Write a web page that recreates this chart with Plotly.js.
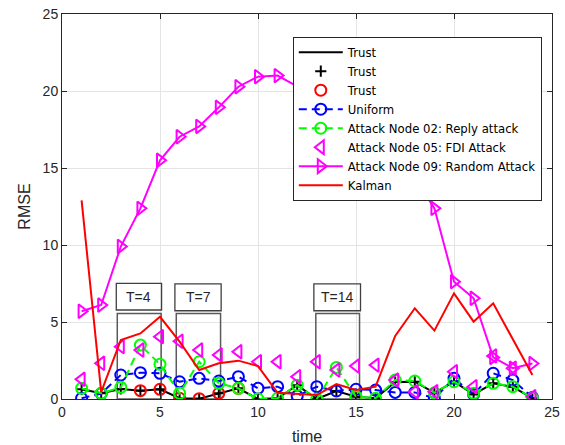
<!DOCTYPE html>
<html>
<head>
<meta charset="utf-8">
<script src="https://cdn.plot.ly/plotly-3.0.1.min.js"></script>
<style>html,body{margin:0;padding:0;background:#fff;}#chart{width:565px;height:445px;}</style>
</head>
<body>
<div id="chart"></div>
<script>
// ---- data ----
const time = [1,2,3,4,5,6,7,8,9,10,11,12,13,14,15,16,17,18,19,20,21,22,23,24];
const trust = [0.63,0.37,0.65,0.54,0.63,0.05,0.02,0.37,0.69,0.0,0.05,0.9,0.0,0.52,0.15,0.05,1.1,1.12,0.4,1.12,0.3,1.02,0.78,0.05];
const trustAlertTimes = [4,5,6,7,8,9,15];
const uniform = [0.05,0.35,1.56,1.71,1.67,1.12,1.34,1.17,1.45,0.69,0.8,0.19,0.8,0.52,0.63,0.58,0.43,0.43,0.05,1.34,0.3,1.67,1.23,0.1];
const replyAttack = [0.69,0.37,0.76,3.5,2.25,0.37,2.42,1.02,0.69,0.0,0.05,0.9,0.0,2.05,0.15,0.05,1.23,1.17,0.4,1.12,0.37,1.02,0.8,0.05];
const fdiAttack = [1.28,2.32,3.4,3.18,4.05,3.75,3.18,2.86,3.07,2.42,2.42,1.45,2.42,1.88,2.14,2.2,1.23,0.47,0.47,1.77,0.8,2.8,2.0,0.15];
const randomAttack = [5.7,6.1,9.9,12.38,15.5,17.03,17.7,18.94,20.28,20.93,21.0,20.3,19.7,19.0,18.0,16.8,15.6,14.4,12.38,7.62,6.54,2.7,2.0,2.3];
const kalman = [12.9,0.45,3.83,4.26,5.34,3.72,1.88,2.32,2.49,2.14,0.4,0.32,0.26,0.97,0.58,0.8,4.1,5.89,4.44,6.86,5.02,6.21,3.85,1.56];
const seriesNames = ['Trust','Trust','Trust','Uniform','Attack Node 02: Reply attack','Attack Node 05: FDI Attack','Attack Node 09: Random Attack','Kalman'];
const windowLabels = ['T=4','T=7','T=14'];

const alertY = trustAlertTimes.map(t => trust[time.indexOf(t)]);

const traces = [
  {x: time, y: trust, name: seriesNames[0], mode: 'lines', line: {color: '#000000', width: 2}},
  {x: time, y: trust, name: seriesNames[1], mode: 'markers',
   marker: {symbol: 'cross-thin', size: 8, color: '#000000', line: {color: '#000000', width: 2}}},
  {x: trustAlertTimes, y: alertY, name: seriesNames[2], mode: 'markers',
   marker: {symbol: 'circle-open', size: 11, color: '#ff0000', line: {color: '#ff0000', width: 2}}},
  {x: time, y: uniform, name: seriesNames[3], mode: 'lines+markers',
   line: {color: '#0000ff', width: 2, dash: '8px,5px'},
   marker: {symbol: 'circle-open', size: 11, color: '#0000ff', line: {color: '#0000ff', width: 2}}},
  {x: time, y: replyAttack, name: seriesNames[4], mode: 'lines+markers',
   line: {color: '#00ff00', width: 2, dash: '8px,5px'},
   marker: {symbol: 'circle-open', size: 11, color: '#00ff00', line: {color: '#00ff00', width: 2}}},
  {x: time, y: fdiAttack, name: seriesNames[5], mode: 'markers',
   marker: {symbol: 'triangle-left-open', size: 12, color: '#ff00ff', line: {color: '#ff00ff', width: 2}}},
  {x: time, y: randomAttack, name: seriesNames[6], mode: 'lines+markers',
   line: {color: '#ff00ff', width: 2},
   marker: {symbol: 'triangle-right-open', size: 12, color: '#ff00ff', line: {color: '#ff00ff', width: 2}}},
  {x: time, y: kalman, name: seriesNames[7], mode: 'lines', line: {color: '#ff0000', width: 2}}
];

const axisCommon = {
  range: [0, 25], dtick: 5, tick0: 0,
  showgrid: true, gridcolor: '#e4e4e4', gridwidth: 1,
  showline: true, linecolor: '#262626', linewidth: 1, mirror: 'ticks',
  ticks: 'inside', ticklen: 5, tickcolor: '#262626',
  zeroline: false, tickfont: {size: 14, color: '#262626'}
};

const winBoxes = [
  {lab: [2.77, 5.08, 5.78, 7.51], rect: [2.82, 5.06, 0, 5.56]},
  {lab: [5.76, 8.12, 5.73, 7.47], rect: [5.83, 8.09, 0, 5.56]},
  {lab: [12.85, 15.23, 5.73, 7.47], rect: [12.95, 15.18, 0, 5.56]}
];
const shapes = [];
const annotations = [];
winBoxes.forEach((w, i) => {
  shapes.push({type: 'rect', xref: 'x', yref: 'y', x0: w.rect[0], x1: w.rect[1], y0: w.rect[2], y1: w.rect[3],
    line: {color: '#5a5a5a', width: 1.5}, layer: 'between'});
  shapes.push({type: 'rect', xref: 'x', yref: 'y', x0: w.lab[0], x1: w.lab[1], y0: w.lab[2], y1: w.lab[3],
    line: {color: '#404040', width: 1.3}, layer: 'between'});
  annotations.push({xref: 'x', yref: 'y', x: (w.lab[0] + w.lab[1]) / 2, y: (w.lab[2] + w.lab[3]) / 2,
    text: windowLabels[i], showarrow: false, font: {size: 14, color: '#262626'}});
});

const layout = {
  width: 565, height: 445,
  margin: {l: 62, r: 13, t: 14, b: 46},
  paper_bgcolor: '#ffffff', plot_bgcolor: '#ffffff',
  font: {family: 'Arial, "Liberation Sans", sans-serif', color: '#262626'},
  xaxis: Object.assign({}, axisCommon, {title: {text: 'time', font: {size: 16, color: '#262626'}, standoff: 13}}),
  yaxis: Object.assign({}, axisCommon, {title: {text: 'RMSE', font: {size: 16, color: '#262626'}, standoff: 8}}),
  showlegend: true,
  legend: {x: 0.471, y: 0.941, xanchor: 'left', yanchor: 'top', bgcolor: '#ffffff',
    bordercolor: '#262626', borderwidth: 1,
    font: {size: 11.7, color: '#000000', family: '"DejaVu Sans", Arial, sans-serif'},
    itemwidth: 44, tracegroupgap: 0},
  shapes: shapes,
  annotations: annotations
};

Plotly.newPlot('chart', traces, layout, {displayModeBar: false, staticPlot: true});
</script>
</body>
</html>
